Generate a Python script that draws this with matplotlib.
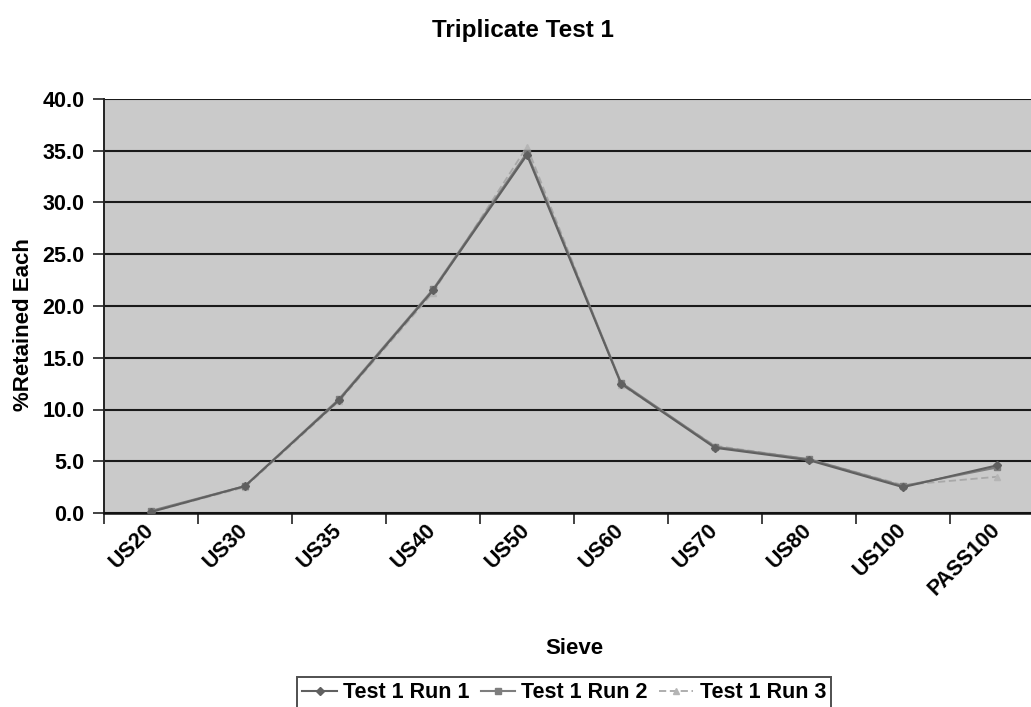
import matplotlib
matplotlib.use("Agg")
import matplotlib.pyplot as plt
from matplotlib.ticker import FixedLocator, FuncFormatter

plt.rcParams['font.family'] = ['Liberation Sans', 'DejaVu Sans']
plt.rcParams['font.weight'] = 'bold'

sieves = ["US20", "US30", "US35", "US40", "US50", "US60", "US70", "US80", "US100", "PASS100"]
run1 = [0.1, 2.6, 10.9, 21.5, 34.6, 12.5, 6.3, 5.1, 2.5, 4.6]
run2 = [0.2, 2.6, 11.0, 21.6, 34.8, 12.6, 6.4, 5.2, 2.6, 4.4]
run3 = [0.1, 2.5, 10.8, 21.3, 35.4, 12.4, 6.5, 5.2, 2.7, 3.5]
series_names = ["Test 1 Run 1", "Test 1 Run 2", "Test 1 Run 3"]
yticks = [0, 5, 10, 15, 20, 25, 30, 35, 40]

W, H = 1031, 707
fig = plt.figure(figsize=(W / 100, H / 100), dpi=100)
fig.patch.set_facecolor('white')

ax = fig.add_axes([104 / W, 1 - 513 / H, 940 / W, (513 - 99) / H])
ax.set_facecolor('#cacaca')

x = list(range(len(sieves)))
ax.plot(x, run1, color='#606060', lw=1.5, marker='D', ms=4.5, mfc='#606060', mec='#606060', label=series_names[0], zorder=4)
ax.plot(x, run2, color='#7e7e7e', lw=1.5, marker='s', ms=4.5, mfc='#7e7e7e', mec='#7e7e7e', label=series_names[1], zorder=3)
ax.plot(x, run3, color='#a8a8a8', lw=1.3, ls=(0, (4, 2)), marker='^', ms=4.5, mfc='#b5b5b5', mec='#b5b5b5', label=series_names[2], zorder=2)

ax.set_xlim(-0.5, len(sieves) - 0.5)
ax.set_ylim(0, 40)
ax.set_yticks(yticks)
ax.yaxis.set_major_formatter(FuncFormatter(lambda v, p: f"{v:.1f}"))
ax.yaxis.grid(True, color='#1a1a1a', lw=1.5)
ax.set_axisbelow(True)

ax.set_xticks(x)
ax.set_xticklabels(sieves, rotation=45, ha='right', va='center', rotation_mode='anchor', fontsize=15.5, fontweight='bold')
ax.xaxis.set_minor_locator(FixedLocator([i - 0.5 for i in range(len(sieves) + 1)]))
ax.tick_params(axis='x', which='major', length=0, pad=10)
ax.tick_params(axis='x', which='minor', length=8, width=1.2, direction='out', color='#222222')
ax.tick_params(axis='y', which='major', length=8, width=1.2, direction='out', pad=6, labelsize=15.5, color='#222222')
for lab in ax.get_yticklabels():
    lab.set_fontweight('bold')

for side in ['top', 'right']:
    ax.spines[side].set_visible(False)
ax.spines['left'].set_color('#222222')
ax.spines['left'].set_linewidth(1.4)
ax.spines['bottom'].set_color('#111111')
ax.spines['bottom'].set_linewidth(1.8)

fig.text(523 / W, 1 - 31 / H, "Triplicate Test 1", ha='center', va='center', fontsize=17.5, fontweight='bold')
fig.text(24 / W, 1 - 325 / H, "%Retained Each", ha='center', va='center', rotation=90, fontsize=16, fontweight='bold')
fig.text(574 / W, 1 - 648 / H, "Sieve", ha='center', va='center', fontsize=16, fontweight='bold')

leg = fig.legend(loc='upper left', bbox_to_anchor=(297 / W, 1 - 677 / H), ncol=3, frameon=True,
                 fancybox=False, edgecolor='#222222', fontsize=15.5, handlelength=1.6,
                 handletextpad=0.3, columnspacing=0.5, borderpad=0.25, borderaxespad=0)
leg.get_frame().set_linewidth(1.4)
for t in leg.get_texts():
    t.set_fontweight('bold')

fig.savefig('out.png', dpi=100, facecolor='white')
